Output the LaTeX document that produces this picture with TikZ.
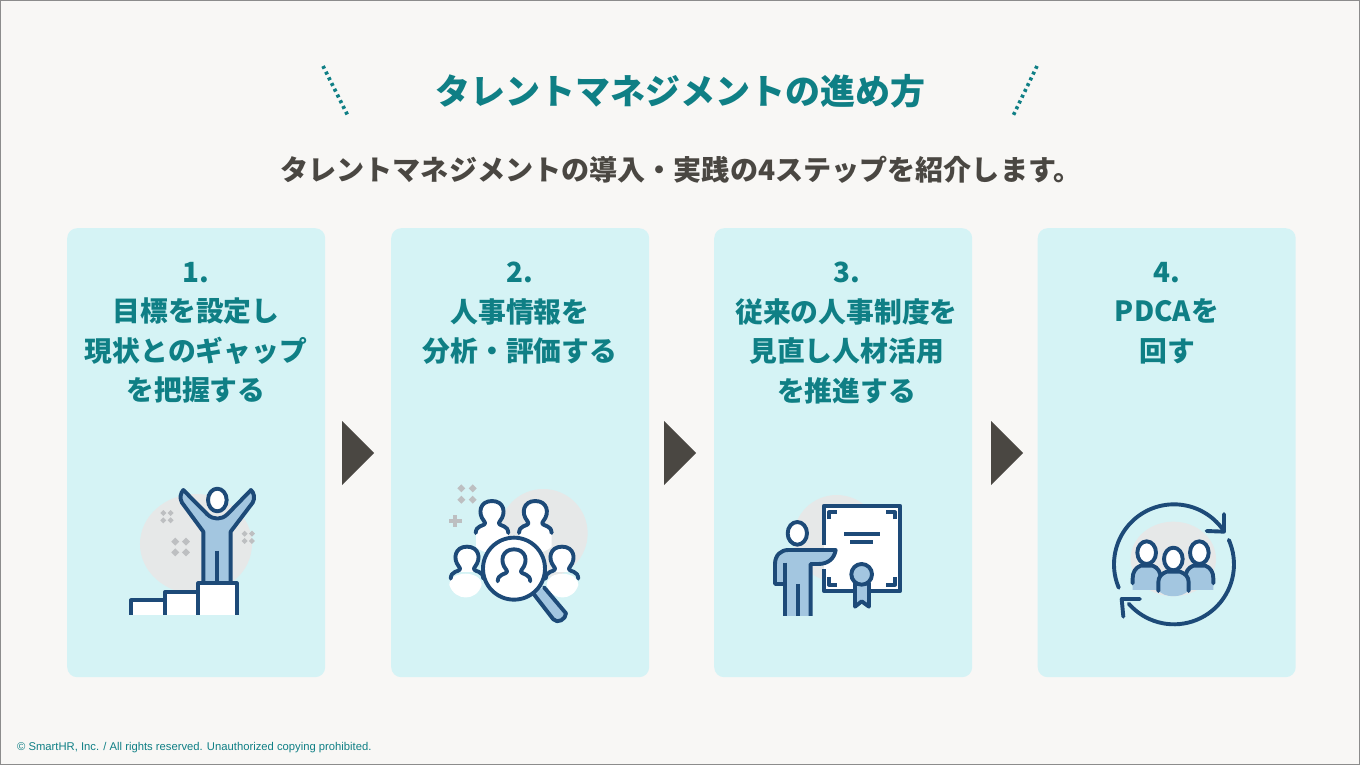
\documentclass[tikz,border=0pt]{standalone}
\usepackage{fontspec}
\setmainfont{Noto Sans CJK JP}
\newfontfamily\jpb{Noto Sans CJK JP}
\newfontfamily\lat{Liberation Sans}
\definecolor{bgc}{HTML}{F8F7F5}
\definecolor{cardc}{HTML}{D5F3F5}
\definecolor{tealc}{HTML}{0F7F85}
\definecolor{darkc}{HTML}{4A4742}
\definecolor{navy}{HTML}{1D4A78}
\definecolor{lblue}{HTML}{A3C6E0}
\definecolor{blob}{HTML}{E6E8E8}
\definecolor{spark}{HTML}{BDBFC1}
\tikzset{
 x=1pt,y=-1pt,
 card/.style={fill=cardc,rounded corners=10pt,minimum width=258pt,minimum height=449pt,inner sep=0pt,anchor=north west},
 cardtext/.style={text=tealc,font=\jpb\bfseries\fontsize{27.8}{39.5}\selectfont,align=center,anchor=north,inner sep=0pt},
 arrowc/.style={fill=darkc},
 icon/.style={x=0.3333pt,y=-0.3333pt,line width=3.9pt,draw=navy,line join=round},
 tick/.style={tealc,line width=3.6pt,dash pattern=on 3pt off 3.4pt},
}
\newcommand{\fourd}[4]{% x y offset size
 \foreach \dx/\dy in {-1/-1,1/-1,-1/1,1/1}{
  \fill[spark] ({#1+\dx*#3-#4},{#2+\dy*#3}) -- ({#1+\dx*#3},{#2+\dy*#3-#4}) -- ({#1+\dx*#3+#4},{#2+\dy*#3}) -- ({#1+\dx*#3},{#2+\dy*#3+#4}) -- cycle;}
}
\newcommand{\personhead}[2]{
  \fill[white] (#1-24,#2+28) .. controls (#1-44,#2+4) and (#1-36,#2-32) .. (#1,#2-32) .. controls (#1+36,#2-32) and (#1+44,#2+4) .. (#1+24,#2+28) -- (#1+24,#2+44) -- (#1-24,#2+44) -- cycle;
  \draw[line cap=round] (#1-49,#2+64) .. controls (#1-48,#2+53) and (#1-44,#2+47) .. (#1-36,#2+44) .. controls (#1-20,#2+38) and (#1-18,#2+36) .. (#1-24,#2+28) .. controls (#1-44,#2+4) and (#1-36,#2-32) .. (#1,#2-32) .. controls (#1+36,#2-32) and (#1+44,#2+4) .. (#1+24,#2+28) .. controls (#1+18,#2+36) and (#1+20,#2+38) .. (#1+36,#2+44) .. controls (#1+44,#2+47) and (#1+48,#2+53) .. (#1+49,#2+64);
}
\begin{document}
\begin{tikzpicture}
\useasboundingbox (0,0) rectangle (1360,765);
\fill[bgc] (0,0) rectangle (1360,765);
\draw[line width=1pt,black!45] (0.5,0.5) rectangle (1359.5,764.5);
% dotted ticks
\coordinate (la) at (323,66); \coordinate (lb) at (348,116);
\coordinate (ra) at (1037,66); \coordinate (rb) at (1013,116);
\draw[tick] (la) -- (lb);
\draw[tick] (ra) -- (rb);
% title
\node[text=tealc,font=\jpb\bfseries\fontsize{35}{35}\selectfont,inner sep=0pt] (title) at (680,91) {タレントマネジメントの進め方};
\node[text=darkc,font=\jpb\bfseries\fontsize{28.1}{28}\selectfont,inner sep=0pt] (sub) at (681,170) {タレントマネジメントの導入・実践の4ステップを紹介します。};
% cards
\node[card] (c1) at (67,228) {};
\node[card] (c2) at (391,228) {};
\node[card] (c3) at (714,228) {};
\node[card] (c4) at (1037.5,228) {};
\node[cardtext] (t1) at (196,262) {1.\\目標を設定し\\現状とのギャップ\\を把握する};
\node[cardtext] (t2) at (520,262) {2.\\人事情報を\\分析・評価する};
\node[cardtext] (t3) at (846.5,262) {3.\\従来の人事制度を\\見直し人材活用\\を推進する};
\node[cardtext] (t4) at (1167,262) {4.\\PDCAを\\回す};
% arrows
\fill[arrowc] (342,421) -- (374,453) -- (342,485) -- cycle;
\fill[arrowc] (664,421) -- (696,453) -- (664,485) -- cycle;
\fill[arrowc] (991,421) -- (1023,453) -- (991,485) -- cycle;
% icon 1
\begin{scope}[shift={(120,480)},icon]
 \fill[blob] (228,192) ellipse [x radius=168,y radius=150];
 \fourd{141}{110}{11}{9}
 \fourd{385}{172}{11}{9}
 \fourd{182}{201}{16}{12}
 \filldraw[fill=lblue] (250,310) -- (250,155) -- (186,68) .. controls (178,55) and (182,38) .. (190,30) -- (262,103) .. controls (280,120) and (304,120) .. (322,103) -- (393,30) .. controls (402,38) and (406,55) .. (398,68) -- (332,155) -- (332,310) -- cycle;
 \draw (292,212) -- (292,310);
 \filldraw[fill=white] (292,60) ellipse [x radius=28,y radius=34];
 \fill[white] (33,362) rectangle (350,405);
 \fill[white] (133,338) rectangle (350,405);
 \fill[white] (235,310) rectangle (350,405);
 \draw[line cap=butt] (33,405) -- (33,361) -- (133,361);
 \draw[line cap=butt] (135,405) -- (135,336) -- (235,336);
 \draw[line cap=butt] (235,405) -- (235,310) -- (350,310) -- (350,405);
\end{scope}
% icon 2
\begin{scope}[shift={(440,480)},icon]
 \fill[blob] (310,160) circle [radius=133];
 \fourd{81}{42}{17}{12}
 \fill[spark] (38,104) rectangle (52,142);
 \fill[spark] (26,116) rectangle (65,130);
 \fill[white] (108,160) .. controls (108,130) and (205,130) .. (205,160) -- (205,200) .. controls (180,225) and (130,225) .. (108,200) -- cycle;
 \fill[white] (238,160) .. controls (238,130) and (335,130) .. (335,160) -- (335,200) .. controls (310,225) and (260,225) .. (238,200) -- cycle;
 \fill[white] (28,315) .. controls (28,270) and (125,270) .. (125,315) .. controls (110,365) and (45,365) .. (28,315) -- cycle;
 \fill[white] (320,315) .. controls (320,270) and (415,270) .. (415,315) .. controls (400,365) and (335,365) .. (320,315) -- cycle;
 \personhead{156}{95}
 \personhead{286}{95}
 \personhead{81}{232}
 \personhead{366}{232}
 \filldraw[fill=lblue,line cap=round] (278,338) -- (340,418) .. controls (352,432) and (378,418) .. (378,400) -- (312,322);
 \filldraw[fill=white] (222,266) circle [radius=93];
 \personhead{222}{240}
\end{scope}
% icon 3
\begin{scope}[shift={(765,490)},icon]
 \fill[blob] (215,145) circle [radius=130];
 \fill[white] (176,48) rectangle (406,302);
 \draw[line cap=butt] (176,165) -- (176,48) -- (406,48) -- (406,302) -- (176,302) -- (176,237);
 \draw[line cap=butt] (192,88) -- (192,67) -- (216,67);
 \draw[line cap=butt] (390,88) -- (390,67) -- (364,67);
 \draw[line cap=butt] (192,262) -- (192,284) -- (216,284);
 \draw[line cap=butt] (390,262) -- (390,284) -- (364,284);
 \draw[line cap=butt] (238,133) -- (344,133);
 \draw[line cap=butt] (255,157) -- (325,157);
 \filldraw[fill=lblue] (270,280) -- (270,350) -- (290,334) -- (312,350) -- (312,280) -- cycle;
 \filldraw[fill=lblue] (290,253) circle [radius=31];
 \fill[lblue] (60,378) -- (60,222) -- (30,222) .. controls (30,195) and (48,180) .. (70,180) -- (212,180) .. controls (208,205) and (190,222) .. (160,222) -- (137,222) -- (137,378) -- cycle;
 \fill[lblue] (30,222) rectangle (60,282);
 \draw[line cap=butt] (58,282) -- (30,282) -- (30,222) .. controls (30,195) and (48,180) .. (70,180) -- (212,180) .. controls (208,205) and (190,222) .. (160,222) -- (137,222) -- (137,378);
 \draw[line cap=butt] (60,218) -- (60,378);
 \draw[line cap=butt] (99,282) -- (99,378);
 \filldraw[fill=white] (97,130) ellipse [x radius=29,y radius=34];
\end{scope}
% icon 4
\begin{scope}[shift={(1100,495)},icon]
 \fill[blob] (220,192) ellipse [x radius=128,y radius=112];
 \draw[line cap=round] plot[smooth,domain=157:326,samples=40] ({222+180*cos(\x)},{208+180*sin(\x)});
 \draw[line cap=round] plot[smooth,domain=-24:139,samples=40] ({222+180*cos(\x)},{208+180*sin(\x)});
 \draw[line cap=round] (372,57) -- (372,110) -- (320,108);
 \draw[line cap=round] (70,365) -- (65,312) -- (120,312);
 % side bodies
 \foreach \cx in {140,298}{
  \fill[lblue] (\cx-42,265) -- (\cx-42,250) .. controls (\cx-42,225) and (\cx-25,212) .. (\cx,212) .. controls (\cx+25,212) and (\cx+42,225) .. (\cx+42,250) -- (\cx+42,285) -- (\cx-42,285) -- cycle;
  \draw[line cap=round] (\cx-42,265) -- (\cx-42,250) .. controls (\cx-42,232) and (\cx-34,218) .. (\cx-18,212) -- (\cx+18,212) .. controls (\cx+34,218) and (\cx+42,232) .. (\cx+42,250) -- (\cx+42,265);
  \draw[fill=white] (\cx,173) ellipse [x radius=28,y radius=34];
 }
 \fill[lblue] (175,285) -- (175,262) .. controls (175,240) and (195,230) .. (220,230) .. controls (245,230) and (266,240) .. (266,262) -- (266,285) .. controls (250,310) and (190,310) .. (175,285) -- cycle;
 \draw[line cap=round] (175,288) -- (175,262) .. controls (175,245) and (185,236) .. (200,230) -- (240,230) .. controls (256,236) and (266,245) .. (266,262) -- (266,288);
 \draw[fill=white] (220,192) ellipse [x radius=28,y radius=34];
\end{scope}
\node[text=tealc,font=\lat\fontsize{11.25}{11}\selectfont,inner sep=0pt,anchor=west] (copy) at (17,748) {© SmartHR, Inc. / All rights reserved. Unauthorized copying prohibited.};
\end{tikzpicture}
\end{document}
